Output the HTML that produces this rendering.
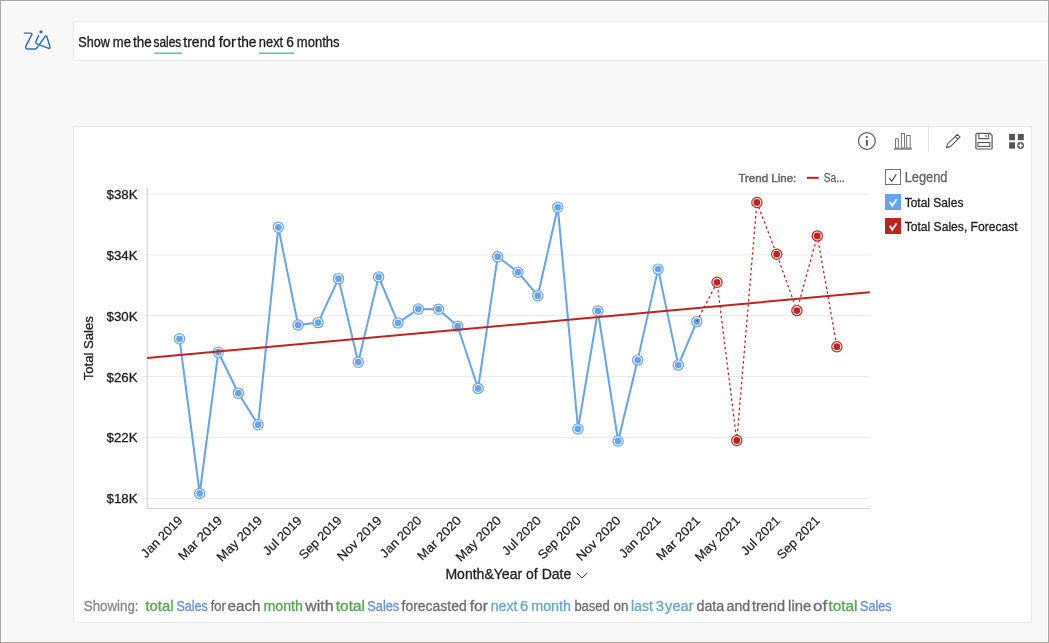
<!DOCTYPE html>
<html><head><meta charset="utf-8">
<style>
html,body{margin:0;padding:0;}
body{width:1049px;height:643px;overflow:hidden;position:relative;background:#f8f8f8;font-family:"Liberation Sans",Arial,sans-serif;}
.frame{position:absolute;left:0;top:0;width:1049px;height:643px;box-sizing:border-box;border:1px solid #aba6a6;z-index:10;pointer-events:none;}
.frame:after{content:"";position:absolute;left:0;top:0;right:0;bottom:0;border:1px solid #fdfdfd;}
.input{position:absolute;left:73px;top:21px;width:1000px;height:40px;box-sizing:border-box;background:#fff;border:1px solid #edeaea;}
.card{position:absolute;left:73px;top:126px;width:959px;height:497px;box-sizing:border-box;background:#fff;border:1px solid #e9e6e6;}
.ov{position:absolute;left:0;top:0;}
.ov text{font-family:"Liberation Sans",Arial,sans-serif;color:#222;fill:currentColor;stroke:currentColor;stroke-width:0.3px;}
.ov tspan{fill:currentColor;stroke:currentColor;}
.ov text.q{font-size:14.2px;color:#1a1a1a;word-spacing:-0.6px;}
.ov text.yl{font-size:13.3px;}
.ov text.yt{font-size:13.5px;}
.ov text.xl{font-size:12.6px;stroke-width:0.2px;}
.ov text.xt{font-size:14px;}
.ov text.tl{font-size:11.6px;color:#666;stroke-width:0.5px;}
.ov text.tls{font-size:12px;color:#666;}
.ov text.lg{font-size:14px;color:#666;}
.ov text.ls{font-size:13px;}
.ov text.sh{font-size:13.8px;color:#6e6e6e;word-spacing:-1px;}
</style></head><body>
<div class="input"></div>
<div class="card"></div>
<svg class="ov" width="1049" height="643" viewBox="0 0 1049 643">
<path d="M24.5,33.1 H30.6 Q32.6,33.1 31.6,35.2 L25.9,45.8 Q24.9,48.9 27.6,48.9 H35.2 Q36.4,48.9 37.1,47.7 L45,36.6 Q46.2,35 46.9,36.8 L49.9,46.6 Q50.4,48.9 48.1,48.1 L37.6,44.1 Q35.4,43.2 36,41.2 L38.6,35.6" fill="none" stroke="#2c6ac0" stroke-width="1.45" stroke-linecap="round" stroke-linejoin="round"/>
<circle cx="41" cy="31.8" r="1.6" fill="#2c6ac0"/>
<text x="78.30" y="47" class="q" textLength="31.50" lengthAdjust="spacingAndGlyphs">Show</text>
<text x="112.80" y="47" class="q" textLength="18.10" lengthAdjust="spacingAndGlyphs">me</text>
<text x="133.10" y="47" class="q" textLength="18.70" lengthAdjust="spacingAndGlyphs">the</text>
<text x="153.50" y="47" class="q" textLength="27.70" lengthAdjust="spacingAndGlyphs">sales</text>
<text x="183.30" y="47" class="q" textLength="31.90" lengthAdjust="spacingAndGlyphs">trend</text>
<text x="218.70" y="47" class="q" textLength="17.10" lengthAdjust="spacingAndGlyphs">for</text>
<text x="237.40" y="47" class="q" textLength="19.10" lengthAdjust="spacingAndGlyphs">the</text>
<text x="258.80" y="47" class="q" textLength="24.40" lengthAdjust="spacingAndGlyphs">next</text>
<text x="286.20" y="47" class="q" textLength="7.60" lengthAdjust="spacingAndGlyphs">6</text>
<text x="296.80" y="47" class="q" textLength="42.80" lengthAdjust="spacingAndGlyphs">months</text>
<rect x="154.1" y="52.5" width="28" height="1.4" fill="#62bb96"/>
<rect x="259" y="52.5" width="35.2" height="1.4" fill="#62bb96"/>
<circle cx="866.9" cy="141" r="8.4" fill="none" stroke="#5a5a5a" stroke-width="1.2"/>
<circle cx="866.8" cy="137.1" r="1.1" fill="#5a5a5a"/>
<rect x="865.9" y="139.8" width="1.9" height="6.1" fill="#5a5a5a"/>
<g fill="none" stroke="#777" stroke-width="1">
<rect x="895.5" y="138.8" width="2.8" height="9.2"/>
<rect x="901.4" y="133.5" width="3.1" height="14.5"/>
<rect x="906.6" y="135.5" width="3.6" height="12.5"/>
</g>
<rect x="894" y="148" width="17.8" height="1.8" fill="#8a8a8a"/>
<line x1="928.4" y1="127" x2="928.4" y2="151.7" stroke="#dedede" stroke-width="1"/>
<g transform="translate(946.4,147.8) rotate(-44.3)"><path d="M0,0 L3.6,-1.9 H17.2 V1.9 H3.6 Z M14.2,-1.9 V1.9" fill="none" stroke="#5a5a5a" stroke-width="1.1" stroke-linejoin="round"/></g>
<path d="M975.9,134.5 Q975.9,133.4 977,133.4 H990 L992.1,135.5 V148 Q992.1,149 991,149 H977 Q975.9,149 975.9,148 Z" fill="none" stroke="#5a5a5a" stroke-width="1.2"/>
<path d="M978.9,133.6 V138.6 H988.7 V133.6" fill="none" stroke="#5a5a5a" stroke-width="1.1"/>
<circle cx="986" cy="136.1" r="0.9" fill="#5a5a5a"/>
<rect x="977.9" y="142.5" width="12" height="3.9" fill="none" stroke="#5a5a5a" stroke-width="1.1"/>
<rect x="1009.1" y="133.9" width="5.9" height="6.3" fill="#555"/>
<rect x="1017.8" y="133.9" width="6.0" height="6.3" fill="#555"/>
<rect x="1009.1" y="142.3" width="5.9" height="6.3" fill="#555"/>
<circle cx="1020.6" cy="145.5" r="3.4" fill="#555"/>
<path d="M1018.3,145.5 H1022.9 M1020.6,143.2 V147.8" stroke="#fff" stroke-width="1.3"/>
<line x1="142" y1="193.95" x2="869.8" y2="193.95" stroke="#ebebeb" stroke-width="1"/>
<line x1="142" y1="254.82" x2="869.8" y2="254.82" stroke="#ebebeb" stroke-width="1"/>
<line x1="142" y1="315.69" x2="869.8" y2="315.69" stroke="#ebebeb" stroke-width="1"/>
<line x1="142" y1="376.56" x2="869.8" y2="376.56" stroke="#ebebeb" stroke-width="1"/>
<line x1="142" y1="437.43" x2="869.8" y2="437.43" stroke="#ebebeb" stroke-width="1"/>
<line x1="142" y1="498.30" x2="869.8" y2="498.30" stroke="#ebebeb" stroke-width="1"/>
<line x1="147.2" y1="188" x2="147.2" y2="509" stroke="#d6d6d6" stroke-width="1.2"/>
<line x1="146.6" y1="508.5" x2="869.8" y2="508.5" stroke="#d6d6d6" stroke-width="1"/>
<text x="137.6" y="198.8" text-anchor="end" class="yl">$38K</text>
<text x="137.6" y="259.7" text-anchor="end" class="yl">$34K</text>
<text x="137.6" y="320.6" text-anchor="end" class="yl">$30K</text>
<text x="137.6" y="381.5" text-anchor="end" class="yl">$26K</text>
<text x="137.6" y="442.3" text-anchor="end" class="yl">$22K</text>
<text x="137.6" y="503.2" text-anchor="end" class="yl">$18K</text>
<text transform="translate(92.8,348.2) rotate(-90)" text-anchor="middle" class="yt" textLength="64.1" lengthAdjust="spacingAndGlyphs">Total Sales</text>
<text transform="translate(183.2,521.3) rotate(-45)" text-anchor="end" class="xl" textLength="52.44" lengthAdjust="spacingAndGlyphs">Jan 2019</text>
<text transform="translate(223.0,521.3) rotate(-45)" text-anchor="end" class="xl" textLength="56.28" lengthAdjust="spacingAndGlyphs">Mar 2019</text>
<text transform="translate(262.9,521.3) rotate(-45)" text-anchor="end" class="xl" textLength="58.05" lengthAdjust="spacingAndGlyphs">May 2019</text>
<text transform="translate(302.7,521.3) rotate(-45)" text-anchor="end" class="xl" textLength="49.11" lengthAdjust="spacingAndGlyphs">Jul 2019</text>
<text transform="translate(342.6,521.3) rotate(-45)" text-anchor="end" class="xl" textLength="54.65" lengthAdjust="spacingAndGlyphs">Sep 2019</text>
<text transform="translate(382.4,521.3) rotate(-45)" text-anchor="end" class="xl" textLength="56.80" lengthAdjust="spacingAndGlyphs">Nov 2019</text>
<text transform="translate(422.2,521.3) rotate(-45)" text-anchor="end" class="xl" textLength="52.44" lengthAdjust="spacingAndGlyphs">Jan 2020</text>
<text transform="translate(462.1,521.3) rotate(-45)" text-anchor="end" class="xl" textLength="56.28" lengthAdjust="spacingAndGlyphs">Mar 2020</text>
<text transform="translate(501.9,521.3) rotate(-45)" text-anchor="end" class="xl" textLength="58.05" lengthAdjust="spacingAndGlyphs">May 2020</text>
<text transform="translate(541.8,521.3) rotate(-45)" text-anchor="end" class="xl" textLength="49.11" lengthAdjust="spacingAndGlyphs">Jul 2020</text>
<text transform="translate(581.6,521.3) rotate(-45)" text-anchor="end" class="xl" textLength="54.65" lengthAdjust="spacingAndGlyphs">Sep 2020</text>
<text transform="translate(621.4,521.3) rotate(-45)" text-anchor="end" class="xl" textLength="56.80" lengthAdjust="spacingAndGlyphs">Nov 2020</text>
<text transform="translate(661.3,521.3) rotate(-45)" text-anchor="end" class="xl" textLength="52.44" lengthAdjust="spacingAndGlyphs">Jan 2021</text>
<text transform="translate(701.1,521.3) rotate(-45)" text-anchor="end" class="xl" textLength="56.28" lengthAdjust="spacingAndGlyphs">Mar 2021</text>
<text transform="translate(741.0,521.3) rotate(-45)" text-anchor="end" class="xl" textLength="58.05" lengthAdjust="spacingAndGlyphs">May 2021</text>
<text transform="translate(780.8,521.3) rotate(-45)" text-anchor="end" class="xl" textLength="49.11" lengthAdjust="spacingAndGlyphs">Jul 2021</text>
<text transform="translate(820.6,521.3) rotate(-45)" text-anchor="end" class="xl" textLength="54.65" lengthAdjust="spacingAndGlyphs">Sep 2021</text>
<text x="445.4" y="579" class="xt" textLength="125.9" lengthAdjust="spacingAndGlyphs">Month&amp;Year of Date</text>
<path d="M577,573 L582.1,578 L587.2,573" fill="none" stroke="#333" stroke-width="1"/>
<polyline points="179.5,338.8 199.7,493.5 218.3,352.2 238.4,393.2 258.1,424.7 278.3,227.3 298.1,325.0 318.1,322.6 338.5,278.6 358.2,362.2 378.6,276.9 398.0,322.9 418.4,309.0 438.5,309.2 457.7,326.2 478.1,388.4 497.7,256.7 518.0,272.2 537.8,295.7 557.8,207.3 578.0,429.0 597.9,311.0 618.1,441.0 637.7,360.1 658.1,269.1 678.3,365.1 696.8,321.6" fill="none" stroke="#66a3f2" stroke-width="2" stroke-linejoin="round"/>
<circle cx="179.5" cy="338.8" r="5.1" fill="#fff" stroke="#66a3f2" stroke-width="1.2"/><circle cx="179.5" cy="338.8" r="3.4" fill="#66a3f2"/>
<circle cx="199.7" cy="493.5" r="5.1" fill="#fff" stroke="#66a3f2" stroke-width="1.2"/><circle cx="199.7" cy="493.5" r="3.4" fill="#66a3f2"/>
<circle cx="218.3" cy="352.2" r="5.1" fill="#fff" stroke="#66a3f2" stroke-width="1.2"/><circle cx="218.3" cy="352.2" r="3.4" fill="#66a3f2"/>
<circle cx="238.4" cy="393.2" r="5.1" fill="#fff" stroke="#66a3f2" stroke-width="1.2"/><circle cx="238.4" cy="393.2" r="3.4" fill="#66a3f2"/>
<circle cx="258.1" cy="424.7" r="5.1" fill="#fff" stroke="#66a3f2" stroke-width="1.2"/><circle cx="258.1" cy="424.7" r="3.4" fill="#66a3f2"/>
<circle cx="278.3" cy="227.3" r="5.1" fill="#fff" stroke="#66a3f2" stroke-width="1.2"/><circle cx="278.3" cy="227.3" r="3.4" fill="#66a3f2"/>
<circle cx="298.1" cy="325.0" r="5.1" fill="#fff" stroke="#66a3f2" stroke-width="1.2"/><circle cx="298.1" cy="325.0" r="3.4" fill="#66a3f2"/>
<circle cx="318.1" cy="322.6" r="5.1" fill="#fff" stroke="#66a3f2" stroke-width="1.2"/><circle cx="318.1" cy="322.6" r="3.4" fill="#66a3f2"/>
<circle cx="338.5" cy="278.6" r="5.1" fill="#fff" stroke="#66a3f2" stroke-width="1.2"/><circle cx="338.5" cy="278.6" r="3.4" fill="#66a3f2"/>
<circle cx="358.2" cy="362.2" r="5.1" fill="#fff" stroke="#66a3f2" stroke-width="1.2"/><circle cx="358.2" cy="362.2" r="3.4" fill="#66a3f2"/>
<circle cx="378.6" cy="276.9" r="5.1" fill="#fff" stroke="#66a3f2" stroke-width="1.2"/><circle cx="378.6" cy="276.9" r="3.4" fill="#66a3f2"/>
<circle cx="398.0" cy="322.9" r="5.1" fill="#fff" stroke="#66a3f2" stroke-width="1.2"/><circle cx="398.0" cy="322.9" r="3.4" fill="#66a3f2"/>
<circle cx="418.4" cy="309.0" r="5.1" fill="#fff" stroke="#66a3f2" stroke-width="1.2"/><circle cx="418.4" cy="309.0" r="3.4" fill="#66a3f2"/>
<circle cx="438.5" cy="309.2" r="5.1" fill="#fff" stroke="#66a3f2" stroke-width="1.2"/><circle cx="438.5" cy="309.2" r="3.4" fill="#66a3f2"/>
<circle cx="457.7" cy="326.2" r="5.1" fill="#fff" stroke="#66a3f2" stroke-width="1.2"/><circle cx="457.7" cy="326.2" r="3.4" fill="#66a3f2"/>
<circle cx="478.1" cy="388.4" r="5.1" fill="#fff" stroke="#66a3f2" stroke-width="1.2"/><circle cx="478.1" cy="388.4" r="3.4" fill="#66a3f2"/>
<circle cx="497.7" cy="256.7" r="5.1" fill="#fff" stroke="#66a3f2" stroke-width="1.2"/><circle cx="497.7" cy="256.7" r="3.4" fill="#66a3f2"/>
<circle cx="518.0" cy="272.2" r="5.1" fill="#fff" stroke="#66a3f2" stroke-width="1.2"/><circle cx="518.0" cy="272.2" r="3.4" fill="#66a3f2"/>
<circle cx="537.8" cy="295.7" r="5.1" fill="#fff" stroke="#66a3f2" stroke-width="1.2"/><circle cx="537.8" cy="295.7" r="3.4" fill="#66a3f2"/>
<circle cx="557.8" cy="207.3" r="5.1" fill="#fff" stroke="#66a3f2" stroke-width="1.2"/><circle cx="557.8" cy="207.3" r="3.4" fill="#66a3f2"/>
<circle cx="578.0" cy="429.0" r="5.1" fill="#fff" stroke="#66a3f2" stroke-width="1.2"/><circle cx="578.0" cy="429.0" r="3.4" fill="#66a3f2"/>
<circle cx="597.9" cy="311.0" r="5.1" fill="#fff" stroke="#66a3f2" stroke-width="1.2"/><circle cx="597.9" cy="311.0" r="3.4" fill="#66a3f2"/>
<circle cx="618.1" cy="441.0" r="5.1" fill="#fff" stroke="#66a3f2" stroke-width="1.2"/><circle cx="618.1" cy="441.0" r="3.4" fill="#66a3f2"/>
<circle cx="637.7" cy="360.1" r="5.1" fill="#fff" stroke="#66a3f2" stroke-width="1.2"/><circle cx="637.7" cy="360.1" r="3.4" fill="#66a3f2"/>
<circle cx="658.1" cy="269.1" r="5.1" fill="#fff" stroke="#66a3f2" stroke-width="1.2"/><circle cx="658.1" cy="269.1" r="3.4" fill="#66a3f2"/>
<circle cx="678.3" cy="365.1" r="5.1" fill="#fff" stroke="#66a3f2" stroke-width="1.2"/><circle cx="678.3" cy="365.1" r="3.4" fill="#66a3f2"/>
<circle cx="696.8" cy="321.6" r="5.1" fill="#fff" stroke="#66a3f2" stroke-width="1.2"/><circle cx="696.8" cy="321.6" r="3.4" fill="#66a3f2"/>
<polyline points="696.8,321.6 717.0,282.3 736.8,440.5 756.9,202.5 776.7,254.2 796.9,310.6 817.3,235.9 836.9,346.7" fill="none" stroke="#c0231e" stroke-width="1.25" stroke-dasharray="2.5 2.7"/>
<circle cx="717.0" cy="282.3" r="5.1" fill="#fff" stroke="#c0231e" stroke-width="1.2"/><circle cx="717.0" cy="282.3" r="3.4" fill="#c0231e"/>
<circle cx="736.8" cy="440.5" r="5.1" fill="#fff" stroke="#c0231e" stroke-width="1.2"/><circle cx="736.8" cy="440.5" r="3.4" fill="#c0231e"/>
<circle cx="756.9" cy="202.5" r="5.1" fill="#fff" stroke="#c0231e" stroke-width="1.2"/><circle cx="756.9" cy="202.5" r="3.4" fill="#c0231e"/>
<circle cx="776.7" cy="254.2" r="5.1" fill="#fff" stroke="#c0231e" stroke-width="1.2"/><circle cx="776.7" cy="254.2" r="3.4" fill="#c0231e"/>
<circle cx="796.9" cy="310.6" r="5.1" fill="#fff" stroke="#c0231e" stroke-width="1.2"/><circle cx="796.9" cy="310.6" r="3.4" fill="#c0231e"/>
<circle cx="817.3" cy="235.9" r="5.1" fill="#fff" stroke="#c0231e" stroke-width="1.2"/><circle cx="817.3" cy="235.9" r="3.4" fill="#c0231e"/>
<circle cx="836.9" cy="346.7" r="5.1" fill="#fff" stroke="#c0231e" stroke-width="1.2"/><circle cx="836.9" cy="346.7" r="3.4" fill="#c0231e"/>
<line x1="147.2" y1="358" x2="869.8" y2="292.3" stroke="#c0231e" stroke-width="2"/>
<text x="738.4" y="182" class="tl" textLength="57.9" lengthAdjust="spacingAndGlyphs">Trend Line:</text>
<line x1="806.8" y1="177.8" x2="818.7" y2="177.8" stroke="#c0231e" stroke-width="2"/>
<text x="823.8" y="182" class="tls" textLength="20.8" lengthAdjust="spacingAndGlyphs">Sa...</text>
<rect x="885.5" y="169.5" width="15" height="15" fill="#fff" stroke="#777" stroke-width="1"/>
<path d="M889.2,178 L891.8,181.3 L896.3,174.2" fill="none" stroke="#444" stroke-width="1.2"/>
<rect x="885" y="194" width="16" height="16" fill="#66a3f2"/>
<path d="M889.8,201.8 L892.2,205.8 L896.6,199.2" fill="none" stroke="#fff" stroke-width="1.8"/>
<rect x="885" y="218" width="16" height="16" fill="#c0231e"/>
<path d="M889.8,225.8 L892.2,229.8 L896.6,223.2" fill="none" stroke="#fff" stroke-width="1.8"/>
<text x="904.7" y="181.7" class="lg" textLength="42.8" lengthAdjust="spacingAndGlyphs">Legend</text>
<text x="904.7" y="206.5" class="ls" textLength="58.7" lengthAdjust="spacingAndGlyphs">Total Sales</text>
<text x="904.7" y="230.7" class="ls" textLength="113" lengthAdjust="spacingAndGlyphs">Total Sales, Forecast</text>
<text x="83.80" y="611" class="sh" style="color:#8a8a8a" textLength="54.70" lengthAdjust="spacingAndGlyphs">Showing:</text>
<text x="145.40" y="611" class="sh" style="color:#55a755" textLength="28.10" lengthAdjust="spacingAndGlyphs">total</text>
<text x="176.50" y="611" class="sh" style="color:#6a8fd8" textLength="31.30" lengthAdjust="spacingAndGlyphs">Sales</text>
<text x="210.80" y="611" class="sh" textLength="15.00" lengthAdjust="spacingAndGlyphs">for</text>
<text x="227.50" y="611" class="sh" textLength="33.00" lengthAdjust="spacingAndGlyphs">each</text>
<text x="263.40" y="611" class="sh" style="color:#55a755" textLength="39.60" lengthAdjust="spacingAndGlyphs">month</text>
<text x="305.30" y="611" class="sh" textLength="28.20" lengthAdjust="spacingAndGlyphs">with</text>
<text x="335.80" y="611" class="sh" style="color:#55a755" textLength="29.10" lengthAdjust="spacingAndGlyphs">total</text>
<text x="367.20" y="611" class="sh" style="color:#6a8fd8" textLength="32.10" lengthAdjust="spacingAndGlyphs">Sales</text>
<text x="401.50" y="611" class="sh" textLength="65.20" lengthAdjust="spacingAndGlyphs">forecasted</text>
<text x="469.70" y="611" class="sh" textLength="18.40" lengthAdjust="spacingAndGlyphs">for</text>
<text x="490.70" y="611" class="sh" style="color:#6aa8c8" textLength="26.80" lengthAdjust="spacingAndGlyphs">next</text>
<text x="520.00" y="611" class="sh" style="color:#6aa8c8" textLength="8.20" lengthAdjust="spacingAndGlyphs">6</text>
<text x="531.20" y="611" class="sh" style="color:#6aa8c8" textLength="39.90" lengthAdjust="spacingAndGlyphs">month</text>
<text x="574.40" y="611" class="sh" textLength="35.30" lengthAdjust="spacingAndGlyphs">based</text>
<text x="613.60" y="611" class="sh" textLength="15.00" lengthAdjust="spacingAndGlyphs">on</text>
<text x="631.10" y="611" class="sh" style="color:#6aa8c8" textLength="21.70" lengthAdjust="spacingAndGlyphs">last</text>
<text x="655.80" y="611" class="sh" style="color:#6aa8c8" textLength="8.30" lengthAdjust="spacingAndGlyphs">3</text>
<text x="665.10" y="611" class="sh" style="color:#6aa8c8" textLength="28.40" lengthAdjust="spacingAndGlyphs">year</text>
<text x="696.50" y="611" class="sh" textLength="27.70" lengthAdjust="spacingAndGlyphs">data</text>
<text x="726.50" y="611" class="sh" textLength="23.70" lengthAdjust="spacingAndGlyphs">and</text>
<text x="751.90" y="611" class="sh" textLength="33.10" lengthAdjust="spacingAndGlyphs">trend</text>
<text x="788.10" y="611" class="sh" textLength="23.10" lengthAdjust="spacingAndGlyphs">line</text>
<text x="813.00" y="611" class="sh" textLength="14.10" lengthAdjust="spacingAndGlyphs">of</text>
<text x="828.50" y="611" class="sh" style="color:#55a755" textLength="29.00" lengthAdjust="spacingAndGlyphs">total</text>
<text x="860.00" y="611" class="sh" style="color:#6a8fd8" textLength="31.70" lengthAdjust="spacingAndGlyphs">Sales</text>
</svg>
<div class="frame"></div>
</body></html>
